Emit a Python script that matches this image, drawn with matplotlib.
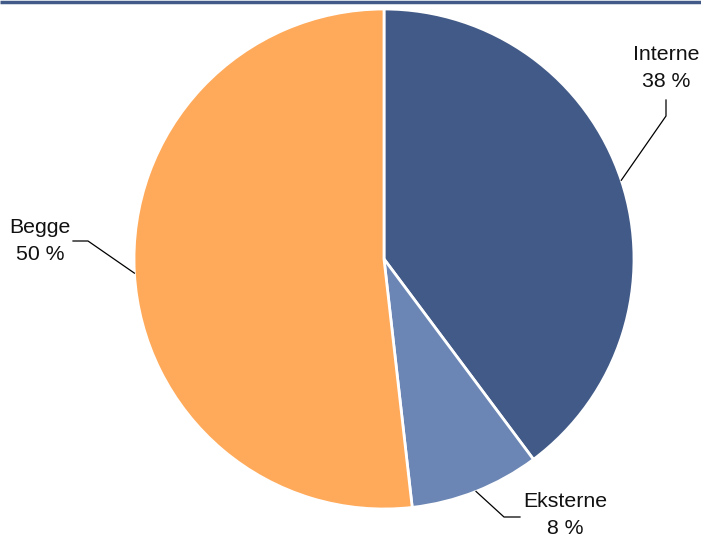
import numpy as np
import matplotlib
matplotlib.use("Agg")
from matplotlib import pyplot as plt

plt.rcParams['font.family'] = ['Liberation Sans', 'DejaVu Sans']

# data
categories = ['Interne', 'Eksterne', 'Begge']
shares = [39.8, 8.4, 51.8]          # wedge sizes as drawn
pct_labels = ['38 %', '8 %', '50 %']  # printed labels
colors = ['#425a87', '#6b86b4', '#ffaa5a']

W, H = 701, 537
fig = plt.figure(figsize=(W / 100, H / 100), dpi=100)
ax = fig.add_axes([0, 0, 1, 1])

cx, cy, r = 384, H - 259, 250
wedges, _ = ax.pie(shares, colors=colors, startangle=90, counterclock=False,
                   center=(cx, cy), radius=r, frame=True,
                   wedgeprops=dict(edgecolor='white', linewidth=2))
ax.set_xlim(0, W)
ax.set_ylim(0, H)
ax.set_aspect('equal')
ax.axis('off')

# top border line
ax.plot([0, W], [H - 1.5, H - 1.5], color='#425a87', lw=2.5, solid_capstyle='butt')

# leader lines: (elbow, end) and text centre, in pixels from top-left
leaders = [((666, 116), (666, 100), (666, 68)),
           ((504, 517), (520, 517), (565, 515)),
           ((88, 241), (73, 241), (40, 241))]
for w, cat, pct, (elbow, end, txt) in zip(wedges, categories, pct_labels, leaders):
    mid = np.deg2rad((w.theta1 + w.theta2) / 2)
    x0 = cx + r * np.cos(mid)
    y0 = cy + r * np.sin(mid)
    ax.plot([x0, elbow[0], end[0]], [y0, H - elbow[1], H - end[1]],
            color='black', lw=0.9)
    ax.text(txt[0], H - txt[1], cat + '\n' + pct, ha='center', va='center',
            fontsize=15.3, linespacing=1.5, color='#111111')

fig.savefig('out.png', dpi=100)
